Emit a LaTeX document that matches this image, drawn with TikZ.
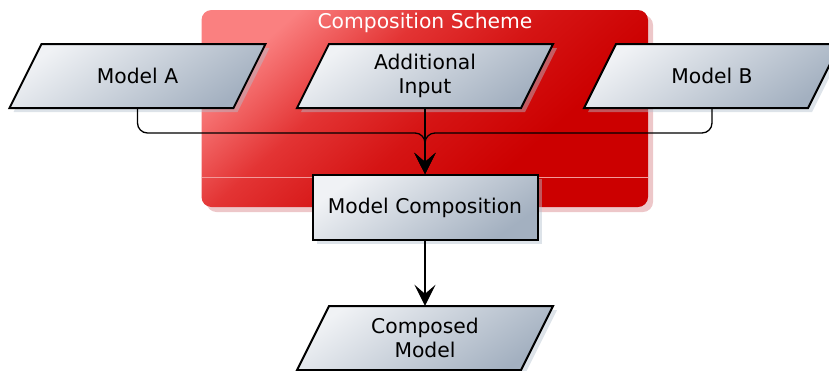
\documentclass[tikz,border=0pt]{standalone}
\usepackage{fontspec}
\setmainfont{DejaVu Sans}
\usetikzlibrary{arrows.meta,shadows}
\definecolor{shapelight}{HTML}{F0F2F5}
\definecolor{shapedark}{HTML}{A3B0C0}
\definecolor{redlight}{HTML}{FA8080}
\definecolor{redmidA}{HTML}{E33434}
\definecolor{redmidB}{HTML}{D51414}
\definecolor{reddark}{HTML}{CC0000}
\definecolor{shadowc}{HTML}{B4C0CE}
\definecolor{redshadow}{HTML}{E9B9BC}
\definecolor{sepline}{HTML}{F29A9A}
\pgfdeclareverticalshading{redsh}{100bp}{color(0bp)=(reddark); color(34bp)=(reddark); color(48bp)=(redmidB); color(61bp)=(redmidA); color(75bp)=(redlight); color(100bp)=(redlight)}
\tikzset{
  lbl/.style={font=\fontsize{20.3}{24}\selectfont, align=center, text=black},
  shapefill/.style={draw=black, line width=2pt, top color=shapelight, bottom color=shapedark, shading angle=35},
  shapeshadow/.style={fill=shadowc, opacity=0.45},
  textbox/.style={lbl, inner sep=0pt, minimum width=224pt, minimum height=64pt},
  proc/.style={lbl, inner sep=0pt, shapefill, rectangle, minimum width=225pt, minimum height=65pt,
    drop shadow={shadow xshift=4pt, shadow yshift=-4pt, fill=shadowc, opacity=0.45}},
  conn/.style={line width=1.3pt, -{Stealth[length=21pt,width=21pt,inset=9pt]}},
  container/.style={rectangle, rounded corners=10pt, minimum width=446.5pt, minimum height=197pt,
    shading=redsh, shading angle=42,
    drop shadow={shadow xshift=5pt, shadow yshift=-5pt, fill=redshadow, opacity=0.8}},
}
% data shape: name, x, y, text
\newcommand\datashape[4]{%
  \fill[shapeshadow] (#2-124,#3+36) -- ++(224,0) -- ++(32,-64) -- ++(-224,0) -- cycle;
  \shadedraw[shapefill] (#2-128,#3+32) -- ++(224,0) -- ++(32,-64) -- ++(-224,0) -- cycle;
  \node[textbox] (#1) at (#2,#3) {#4};}
\begin{document}
\begin{tikzpicture}[x=1pt,y=-1pt]
\clip (0,0) rectangle (829,370);
\node[container] (scheme) at (424.75,108.5) {};
\coordinate (lineL) at (201.5,177);
\coordinate (lineR) at (648,177);
\draw[sepline, line width=0.8pt] (lineL) -- (lineR);
\node[lbl, text=white] (title) at (425,23) {Composition Scheme};
\datashape{A}{137.5}{76}{Model A}
\datashape{AI}{425}{76}{Additional\\Input}
\datashape{B}{712}{76}{Model B}
\node[proc] (MC) at (425,207.5) {Model Composition};
\datashape{CM}{425}{338}{Composed\\Model}
\coordinate (jn) at (425,133);
\draw[conn, rounded corners=10pt] (A.south) |- (jn) -- (MC.north);
\draw[conn, rounded corners=10pt] (B.south) |- (jn) -- (MC.north);
\draw[conn] (AI.south) -- (MC.north);
\draw[conn] (MC.south) -- (CM.north);
\end{tikzpicture}
\end{document}
